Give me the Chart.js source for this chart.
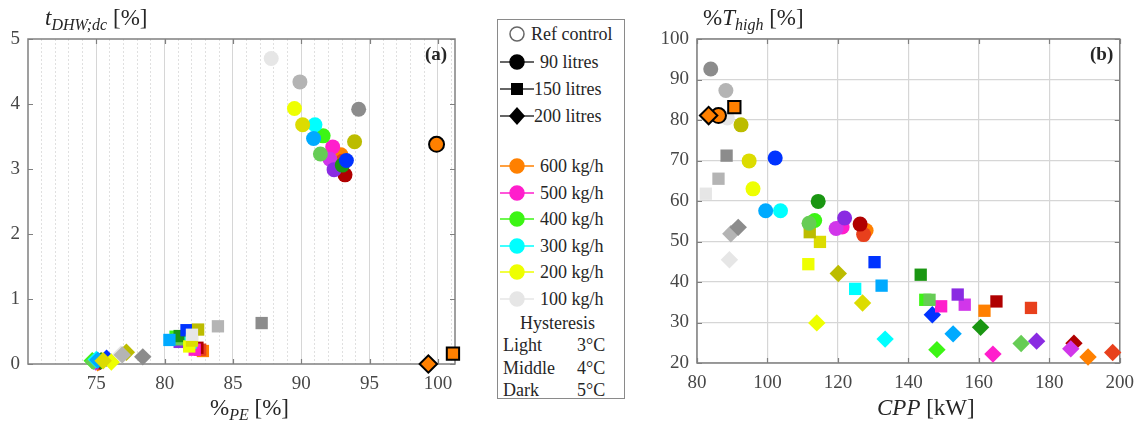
<!DOCTYPE html>
<html>
<head>
<meta charset="utf-8">
<script src="https://cdn.jsdelivr.net/npm/chart.js@4.4.1/dist/chart.umd.min.js"></script>
<style>
  body { margin: 0; background: #fff; width: 1143px; height: 424px; position: relative; overflow: hidden;
         font-family: 'Liberation Serif', 'Times New Roman', serif; color: #262626; }
  canvas { position: absolute; top: 0; }
  .lbl { position: absolute; white-space: nowrap; line-height: 1; }
  .ttl { font-size: 23px; }
  .ttl sub { font-size: 16px; vertical-align: -5px; line-height: 0; }
  .tag { font-size: 19px; font-weight: bold; }
  #legend { position: absolute; left: 497px; top: 19px; width: 126px; height: 378px; border: 1.5px solid #8a8a8a; }
  #legend .row { position: absolute; left: 0; height: 22px; font-size: 18px; line-height: 22px; white-space: nowrap; }
  #legend svg { position: absolute; top: 0; }
</style>
</head>
<body>
<canvas id="chartA" width="480" height="424" style="left:0"></canvas>
<canvas id="chartB" width="503" height="424" style="left:640px"></canvas>
<div id="legend"></div>

<div class="lbl ttl" style="left:45px; top:6px"><i>t</i><sub><i>DHW;dc</i></sub> [%]</div>
<div class="lbl ttl" style="left:210px; top:396px">%<sub><i>PE</i></sub> [%]</div>
<div class="lbl tag" style="left:425px; top:44px">(a)</div>

<div class="lbl ttl" style="left:703px; top:6px">%<i>T</i><sub><i>high</i></sub> [%]</div>
<div class="lbl ttl" style="left:877px; top:396px"><i>CPP</i> [kW]</div>
<div class="lbl tag" style="left:1090px; top:44px">(b)</div>

<script>
// legend groups
const tanks = ['90 litres', '150 litres', '200 litres'];
const tankMarkers = ['circle', 'rect', 'rectRot'];
const flows = ['600 kg/h', '500 kg/h', '400 kg/h', '300 kg/h', '200 kg/h', '100 kg/h'];
const hysteresis = ['Light', 'Middle', 'Dark'];
const hystTemps = ['3°C', '4°C', '5°C'];

// one colour per (flow, hysteresis) pair, light -> dark
const palette = [
  '#ff8000', '#e8401c', '#b00000',
  '#ff1ecc', '#d136ea', '#8a2be2',
  '#3cf514', '#66cc55', '#1a9612',
  '#00ffff', '#00aaff', '#0033ff',
  '#eeff00', '#dcdc00', '#bcbc00',
  '#e6e6e6', '#b4b4b4', '#8c8c8c'
];

// (a) share of primary energy vs DHW discomfort time, same point order as palette
const pe90    = [92.9, 93.0, 93.2, 92.3, 92.1, 92.4, 91.6, 91.4, 93.0, 91.0, 90.9, 93.3, 89.5, 90.1, 93.9, 87.8, 89.9, 94.2];
const tdhw90  = [3.22, 3.12, 2.91, 3.34, 3.15, 2.99, 3.51, 3.23, 3.06, 3.68, 3.47, 3.13, 3.93, 3.68, 3.42, 4.70, 4.34, 3.92];
const pe150   = [82.8, 82.6, 82.4, 82.2, 81.8, 81.1, 80.8, 81.0, 81.1, 81.9, 80.35, 81.6, 81.8, 82.0, 82.45, 82.0, 83.9, 87.1];
const tdhw150 = [0.20, 0.22, 0.25, 0.22, 0.30, 0.34, 0.42, 0.38, 0.43, 0.33, 0.37, 0.52, 0.27, 0.36, 0.53, 0.45, 0.58, 0.63];
const pe200   = [75.1, 75.2, 75.3, 75.0, 74.95, 75.05, 74.7, 74.8, 75.35, 75.0, 75.1, 75.75, 76.1, 75.5, 77.2, 76.8, 76.9, 78.4];
const tdhw200 = [0.02, 0.03, 0.04, 0.04, 0.03, 0.05, 0.05, 0.04, 0.05, 0.07, 0.06, 0.09, 0.03, 0.05, 0.18, 0.15, 0.14, 0.11];
const peRef   = [99.9, 101.1, 99.3];
const tdhwRef = [3.38, 0.16, 0.0];
const peTicks = [75, 80, 85, 90, 95, 100];

// (b) contracted power peak vs share of high-temperature time
const cpp90    = [128.0, 127.3, 126.3, 121.2, 119.5, 121.9, 113.4, 111.8, 114.4, 103.7, 99.5, 102.2, 95.9, 94.8, 92.5, 88.6, 88.2, 83.9];
const thigh90  = [52.7, 51.7, 54.3, 53.6, 53.2, 55.8, 55.2, 54.5, 59.9, 57.6, 57.6, 70.6, 63.0, 69.9, 78.8, 80.5, 87.3, 92.6];
const cpp150   = [161.6, 174.8, 165.0, 149.3, 156.0, 154.0, 144.8, 146.0, 143.5, 124.9, 132.4, 130.4, 111.6, 114.9, 112.0, 82.5, 86.1, 88.4];
const thigh150 = [32.9, 33.6, 35.2, 34.0, 34.4, 36.9, 35.6, 35.6, 41.8, 38.3, 39.1, 44.9, 44.4, 49.9, 52.3, 61.8, 65.5, 71.2];
const cpp200   = [191.0, 198.0, 187.0, 164.0, 186.1, 176.4, 148.1, 172.0, 160.5, 133.4, 152.7, 146.8, 114.0, 127.0, 120.1, 89.2, 89.6, 91.7];
const thigh200 = [21.5, 22.6, 24.9, 22.2, 23.5, 25.4, 23.3, 24.8, 28.8, 25.9, 27.2, 31.9, 29.9, 34.8, 42.1, 45.5, 51.9, 53.5];
const cppRef   = [86.1, 90.6, 83.3];
const thighRef = [81.1, 83.2, 81.1];

const refColor = '#ff8000';
const markerSize = { circle: 7.5, rect: 8.7, rectRot: 8.7 };
const tickFont = { family: "'Liberation Serif', serif", size: 19 };
const tickColor = '#474747';

function points(xs, ys) {
  return xs.map((x, i) => ({ x, y: ys[i] }));
}

function buildDatasets(series, xRef, yRef) {
  const sets = [{
    label: 'Ref control',
    data: points(xRef, yRef),
    pointStyle: tankMarkers,
    pointRadius: tankMarkers.map(m => markerSize[m]),
    pointBackgroundColor: refColor,
    pointBorderColor: '#000',
    pointBorderWidth: 2,
    showLine: false,
    clip: false
  }];
  series.forEach(([xs, ys], k) => {
    sets.push({
      label: tanks[k],
      data: points(xs, ys),
      pointStyle: tankMarkers[k],
      pointRadius: markerSize[tankMarkers[k]],
      pointBackgroundColor: palette,
      pointBorderColor: palette,
      pointBorderWidth: 0,
      showLine: false,
      clip: false
    });
  });
  return sets;
}

// box around the plot area with short inward ticks on all four sides
const framePlugin = {
  id: 'frame',
  beforeDatasetsDraw(chart) {
    const { ctx, chartArea: a } = chart;
    const xs = chart.scales.x, ys = chart.scales.y;
    ctx.save();
    ctx.strokeStyle = '#808080';
    ctx.lineWidth = 1.2;
    ctx.beginPath();
    xs.ticks.forEach(t => {
      const p = Math.round(xs.getPixelForValue(t.value)) + 0.5;
      ctx.moveTo(p, a.bottom); ctx.lineTo(p, a.bottom - 5);
      ctx.moveTo(p, a.top); ctx.lineTo(p, a.top + 5);
    });
    ys.ticks.forEach(t => {
      const p = Math.round(ys.getPixelForValue(t.value)) + 0.5;
      ctx.moveTo(a.left, p); ctx.lineTo(a.left + 5, p);
      ctx.moveTo(a.right, p); ctx.lineTo(a.right - 5, p);
    });
    ctx.stroke();
    ctx.lineWidth = 1.5;
    ctx.strokeRect(a.left, a.top, a.right - a.left, a.bottom - a.top);
    ctx.restore();
  }
};

const common = {
  responsive: false,
  animation: false,
  events: [],
  plugins: { legend: { display: false }, tooltip: { enabled: false } }
};

new Chart(document.getElementById('chartA'), {
  type: 'scatter',
  data: { datasets: buildDatasets([[pe90, tdhw90], [pe150, tdhw150], [pe200, tdhw200]], peRef, tdhwRef) },
  plugins: [framePlugin],
  options: {
    ...common,
    layout: { padding: { top: 39, right: 25, left: 0, bottom: 0 } },
    scales: {
      x: {
        type: 'linear', min: 70, max: 101.25,
        afterBuildTicks: s => { s.ticks = peTicks.map(v => ({ value: v })); },
        afterFit: s => { s.height = 60; },
        grid: { color: '#d6d6d6', drawTicks: false },
        border: { display: false },
        ticks: { padding: 9, font: tickFont, color: tickColor, maxRotation: 0, autoSkip: false }
      },
      xMinor: {
        type: 'linear', position: 'bottom', min: 70, max: 101.25,
        afterBuildTicks: s => {
          const t = [];
          for (let v = 71; v <= 101; v++) if (v % 5) t.push({ value: v });
          s.ticks = t;
        },
        afterFit: s => { s.height = 0; },
        grid: { color: '#e0e0e0', drawTicks: false },
        border: { display: false, dash: [2, 2] },
        ticks: { display: false }
      },
      y: {
        min: 0, max: 5,
        afterFit: s => { s.width = 28; },
        grid: { drawOnChartArea: false, drawTicks: false },
        border: { display: false },
        ticks: { stepSize: 1, padding: 8, font: tickFont, color: tickColor }
      }
    }
  }
});

new Chart(document.getElementById('chartB'), {
  type: 'scatter',
  data: { datasets: buildDatasets([[cpp90, thigh90], [cpp150, thigh150], [cpp200, thigh200]], cppRef, thighRef) },
  plugins: [framePlugin],
  options: {
    ...common,
    layout: { padding: { top: 39, right: 19, left: 0, bottom: 0 } },
    scales: {
      x: {
        type: 'linear', min: 80, max: 200,
        afterFit: s => { s.height = 61; },
        grid: { color: '#d6d6d6', lineWidth: 1.2, drawTicks: false },
        border: { display: false },
        ticks: { stepSize: 20, padding: 9, font: tickFont, color: tickColor, maxRotation: 0 }
      },
      y: {
        min: 20, max: 100,
        afterFit: s => { s.width = 57; },
        grid: { color: '#d6d6d6', lineWidth: 1.2, drawTicks: false },
        border: { display: false },
        ticks: { stepSize: 10, padding: 8, font: tickFont, color: tickColor }
      }
    }
  }
});

// legend panel
function markerSvg(style, fill, stroke, lineColor) {
  const line = lineColor ? `<line x1="2" y1="11" x2="36" y2="11" stroke="${lineColor}" stroke-width="1.3"/>` : '';
  let shape;
  if (style === 'circle') shape = `<circle cx="19" cy="11" r="7" fill="${fill}" stroke="${stroke}" stroke-width="1.5"/>`;
  else if (style === 'rect') shape = `<rect x="13" y="5" width="12" height="12" fill="${fill}"/>`;
  else shape = `<polygon points="19,2 27,11 19,20 11,11" fill="${fill}"/>`;
  return `<svg width="40" height="22">${line}${shape}</svg>`;
}

const legend = document.getElementById('legend');
function addRow(top, html) {
  const r = document.createElement('div');
  r.className = 'row';
  r.style.top = top + 'px';
  r.innerHTML = html;
  legend.appendChild(r);
  return r;
}
addRow(3, `${markerSvg('circle', '#fff', '#666')}<span style="position:absolute;left:33px">Ref control</span>`);
tanks.forEach((t, k) => {
  addRow(31 + k * 27, `${markerSvg(tankMarkers[k], '#000', '#000', '#333')}<span style="position:absolute;left:${k ? 36 : 42}px">${t}</span>`);
});
flows.forEach((f, k) => {
  const c = palette[k * 3];
  addRow(135 + k * 26.5, `${markerSvg('circle', c, c, c)}<span style="position:absolute;left:42px">${f}</span>`);
});
addRow(292, '<span style="position:absolute;left:22px">Hysteresis</span>');
hysteresis.forEach((h, k) => {
  addRow(314 + k * 22.5, `<span style="position:absolute;left:5px">${h}</span><span style="position:absolute;left:79px">${hystTemps[k]}</span>`);
});
</script>
</body>
</html>
